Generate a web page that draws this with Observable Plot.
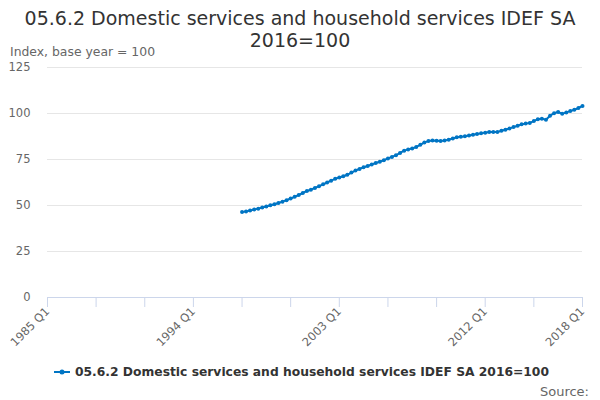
<!DOCTYPE html>
<html>
<head>
<meta charset="utf-8">
<script src="https://cdn.jsdelivr.net/npm/d3@7"></script>
<script src="https://cdn.jsdelivr.net/npm/@observablehq/plot@0.6"></script>
<style>
  body { margin: 0; background: #fff; font-family: "DejaVu Sans", sans-serif; }
  #wrap { position: relative; width: 600px; height: 400px; overflow: hidden; }
  #title { position: absolute; top: 7px; left: 0; width: 600px; text-align: center;
    font-size: 19px; line-height: 22px; color: #333; }
  #subtitle { position: absolute; top: 44px; left: 10px; font-size: 12.4px; color: #666; }
  #legend { position: absolute; top: 365px; left: 54px; font-size: 12.3px; font-weight: bold; color: #333;
    display: flex; align-items: center; }
  #legend svg { margin-right: 5px; }
  #source { position: absolute; top: 384px; right: 11px; font-size: 13px; color: #666; }
  #chart { position: absolute; top: 0; left: 0; }
</style>
</head>
<body>
<div id="wrap">
  <div id="chart"></div>
  <div id="title">05.6.2 Domestic services and household services IDEF SA<br>2016=100</div>
  <div id="subtitle">Index, base year = 100</div>
  <div id="legend"></div>
  <div id="source">Source:</div>
</div>
<script>
const seriesName = "05.6.2 Domestic services and household services IDEF SA 2016=100";
const startYear = 1997; // first point: 1997 Q1, quarterly to 2018 Q1
const values = [
  46.4, 46.8, 47.3, 47.8, 48.3, 48.9, 49.5, 50.1, 50.7, 51.4,
  52.1, 52.9, 53.8, 54.7, 55.7, 56.8, 57.9, 58.6, 59.5, 60.5,
  61.5, 62.5, 63.5, 64.5, 65.2, 65.9, 66.7, 67.9, 69.0, 69.9,
  70.8, 71.5, 72.3, 73.1, 73.8, 74.6, 75.6, 76.4, 77.3, 78.6,
  79.8, 80.5, 81.0, 81.8, 83.0, 84.3, 85.0, 85.3, 85.2, 85.0,
  85.3, 85.8, 86.4, 87.1, 87.3, 87.6, 88.0, 88.5, 88.9, 89.2,
  89.6, 89.9, 90.0, 89.9, 90.6, 91.2, 91.9, 92.6, 93.3, 94.2,
  94.5, 94.9, 95.9, 96.9, 97.2, 96.6, 98.8, 100.2, 100.8, 99.8,
  100.6, 101.3, 102.0, 103.0, 104.1
];
const xTickYears = [1985, 1988, 1991, 1994, 1997, 2000, 2003, 2006, 2009, 2012, 2015, 2018];
const xLabelYears = [1985, 1994, 2003, 2012, 2018];
const yTicks = [0, 25, 50, 75, 100, 125];

const color = "#0075c4";
const data = values.map((v, i) => ({
  date: new Date(startYear + Math.floor(i / 4), (i % 4) * 3, 1),
  value: v
}));
const xTicks = xTickYears.map(y => new Date(y, 0, 1));

const chart = Plot.plot({
  width: 600,
  height: 400,
  marginTop: 67,
  marginBottom: 103,
  marginLeft: 47,
  marginRight: 18,
  style: { fontFamily: "DejaVu Sans, sans-serif", fontSize: "11.5px", color: "#666", background: "transparent" },
  x: { type: "time", domain: [new Date(1985, 0, 1), new Date(2018, 0, 1)] },
  y: { domain: [0, 125] },
  marks: [
    Plot.gridY(yTicks, { stroke: "#e6e6e6", strokeOpacity: 1 }),
    Plot.axisY(yTicks, { tickSize: 0, tickPadding: 17, fill: "#666", fontSize: 11.5, label: null }),
    Plot.ruleY([0], { stroke: "#ccd6eb" }),
    Plot.axisX(xTicks, {
      tickSize: 10, stroke: "#ccd6eb", fill: "#666", fontSize: 11.5, label: null,
      tickRotate: -45, tickPadding: 2,
      tickFormat: d => xLabelYears.includes(d.getFullYear()) ? `${d.getFullYear()} Q1` : ""
    }),
    Plot.line(data, { x: "date", y: "value", stroke: color, strokeWidth: 2 }),
    Plot.dot(data, { x: "date", y: "value", fill: color, r: 2 })
  ]
});
document.getElementById("chart").appendChild(chart);

const legend = document.getElementById("legend");
legend.innerHTML = `<svg width="16" height="10"><line x1="0" y1="5" x2="16" y2="5" stroke="${color}" stroke-width="2"/><circle cx="8" cy="5" r="2.5" fill="${color}"/></svg><span>${seriesName}</span>`;
</script>
</body>
</html>
